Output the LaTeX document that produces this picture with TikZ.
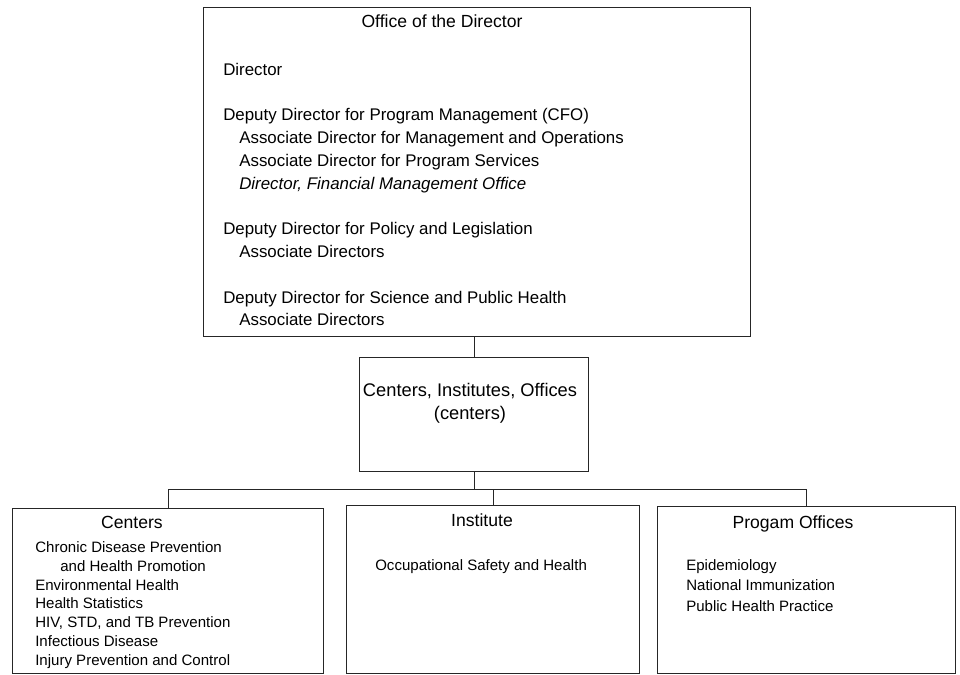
\documentclass[tikz,border=0pt]{standalone}
\usepackage{fontspec}
\setmainfont{Liberation Sans}
\usetikzlibrary{positioning}

\begin{document}
\begin{tikzpicture}[
  x=0.025cm, y=-0.025cm,
  box/.style={rectangle, draw=black!85, line width=0.7pt, inner sep=0pt, anchor=north west},
  head/.style={font=\fontsize{12.5}{15}\selectfont, inner sep=0pt, anchor=base},
  toplist/.style={font=\fontsize{12}{16.2}\selectfont, align=left, inner sep=0pt, anchor=base west},
  sublist/.style={font=\fontsize{10.7}{13.3}\selectfont, align=left, inner sep=0pt, anchor=base west},
  link/.style={draw=black!85, line width=0.7pt},
]
  \useasboundingbox (0,0) rectangle (960,675);

  % Boxes
  \node[box, minimum width=13.675cm, minimum height=8.225cm] (office)  at (203,7)   {};
  \node[box, minimum width=5.725cm,  minimum height=2.85cm]  (mid)     at (359,357) {};
  \node[box, minimum width=7.775cm,  minimum height=4.125cm] (centers) at (12,508)  {};
  \node[box, minimum width=7.325cm,  minimum height=4.2cm]   (inst)    at (346,505) {};
  \node[box, minimum width=7.45cm,   minimum height=4.175cm] (prog)    at (657,506) {};

  % Office of the Director (lists sit on the baseline of their last line)
  \node[head] (officetitle) at (442,28) {Office of the Director};
  \node[toplist] (officelist) at (223,326) {Director\\[16.2pt]
    Deputy Director for Program Management (CFO)\\
    \hspace*{11.4pt}Associate Director for Management and Operations\\
    \hspace*{11.4pt}Associate Director for Program Services\\
    \hspace*{11.4pt}\textit{Director, Financial Management Office}\\[16.2pt]
    Deputy Director for Policy and Legislation\\
    \hspace*{11.4pt}Associate Directors\\[16.2pt]
    Deputy Director for Science and Public Health\\
    \hspace*{11.4pt}Associate Directors};

  % Centers, Institutes, Offices
  \node[head, font=\fontsize{13}{16.4}\selectfont, align=center] (midtext) at (470,419.5)
    {Centers, Institutes, Offices\\(centers)};

  % Bottom row
  \node[head] (centershead) at (132,528) {Centers};
  \node[sublist] (centerslist) at (35,665) {Chronic Disease Prevention\\
    \hspace*{17.8pt}and Health Promotion\\
    Environmental Health\\
    Health Statistics\\
    HIV, STD, and TB Prevention\\
    Infectious Disease\\
    Injury Prevention and Control};

  \node[head] (insthead) at (482,526) {Institute};
  \node[sublist] (instlist) at (375,570) {Occupational Safety and Health};

  \node[head] (proghead) at (793,528) {Progam Offices};
  \node[sublist, font=\fontsize{10.7}{14.4}\selectfont] (proglist) at (686,611)
    {Epidemiology\\National Immunization\\Public Health Practice};

  % Connectors
  \coordinate (bus) at ([yshift=-0.425cm]mid.south);
  \draw[link] (mid.north |- office.south) -- (mid.north);
  \draw[link] (mid.south) -- (bus);
  \draw[link] (centers.north) |- (bus) -| (prog.north);
  \draw[link] (inst.north) -- (inst.north |- bus);
\end{tikzpicture}
\end{document}
